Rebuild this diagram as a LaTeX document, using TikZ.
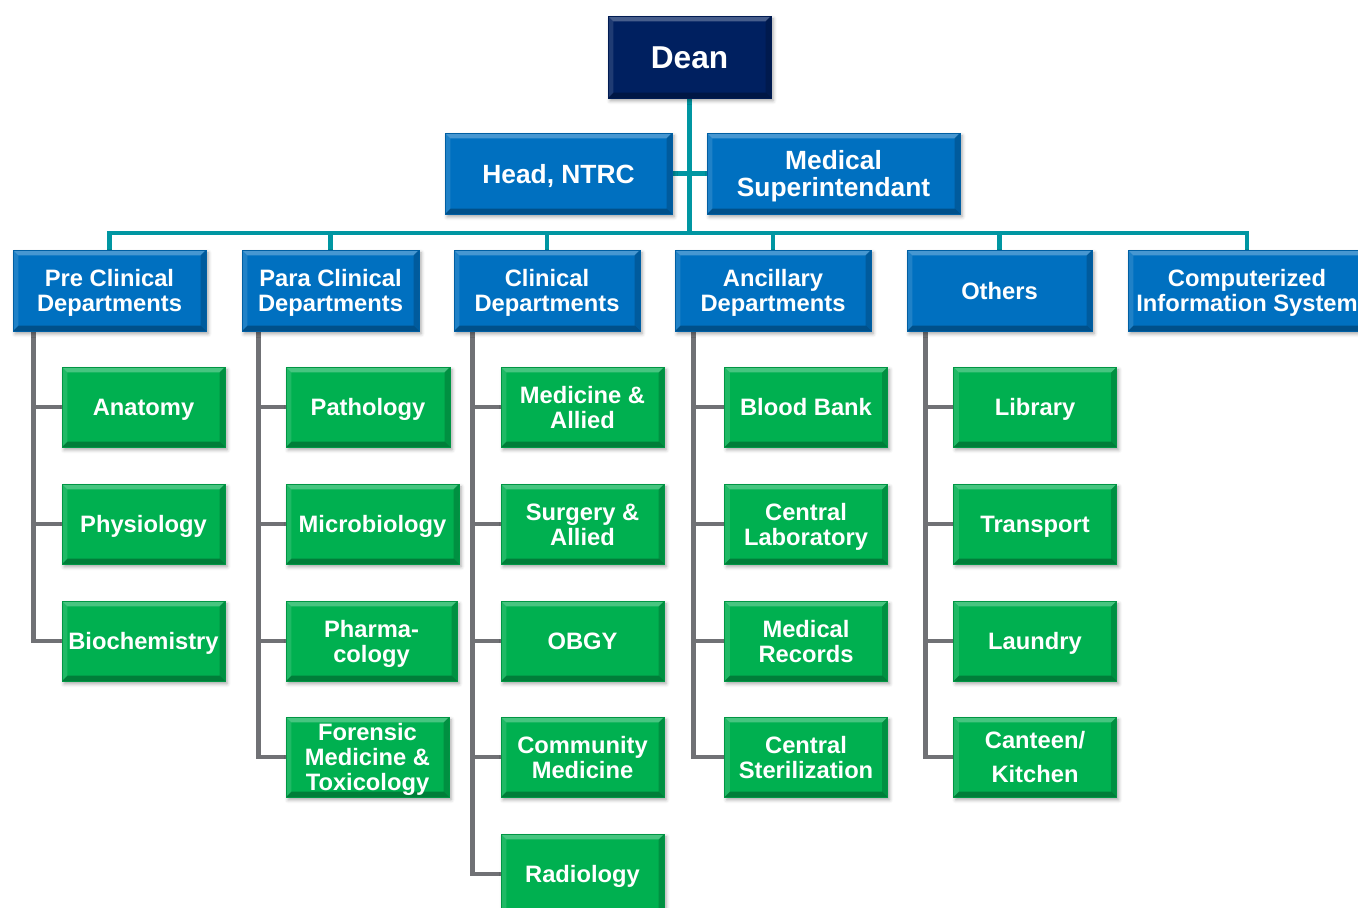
\documentclass[tikz,border=0pt]{standalone}
\usepackage{fontspec}
\setmainfont{Liberation Sans}
\usetikzlibrary{calc,shadows.blur}
\pgfdeclarelayer{background}
\pgfsetlayers{background,main}
\definecolor{deannavy}{RGB}{0,32,96}
\definecolor{unitblue}{RGB}{0,112,192}
\definecolor{deptgreen}{RGB}{0,176,80}
\definecolor{busteal}{RGB}{0,150,162}
\definecolor{trunkgray}{RGB}{112,113,117}
\newcommand\capstrut{\rule{0pt}{0.94em}}
\tikzset{
   bevel/.style={path picture={
      \fill[white,opacity=0.28] (path picture bounding box.north west) -- (path picture bounding box.north east)
           -- ++(-3pt,-3pt) -- ($(path picture bounding box.north west)+(3pt,-3pt)$) -- cycle;
      \fill[white,opacity=0.12] (path picture bounding box.north west) -- (path picture bounding box.south west)
           -- ++(3pt,3pt) -- ($(path picture bounding box.north west)+(3pt,-3pt)$) -- cycle;
      \fill[black,opacity=0.18] (path picture bounding box.north east) -- (path picture bounding box.south east)
           -- ++(-3pt,3pt) -- ($(path picture bounding box.north east)+(-3pt,-3pt)$) -- cycle;
      \fill[black,opacity=0.28] (path picture bounding box.south west) -- (path picture bounding box.south east)
           -- ++(-3pt,3pt) -- ($(path picture bounding box.south west)+(3pt,3pt)$) -- cycle;
   }},
   box/.style={bevel, draw=#1!85!black, line width=0.4pt, fill=#1, text=white, align=center, inner sep=0pt,
               execute at begin node={\capstrut}, execute at end node={\rule[-0.21em]{0pt}{0.21em}},
               blur shadow={shadow xshift=1.2pt, shadow yshift=-1.6pt, shadow blur radius=2pt, shadow opacity=35}},
   head/.style={box=deannavy, minimum width=3.26cm, minimum height=1.64cm, font=\bfseries\fontsize{18}{20}\selectfont},
   unit/.style={box=unitblue, minimum height=1.62cm, font=\bfseries\fontsize{15}{15.5}\selectfont},
   section/.style={box=unitblue, minimum height=1.62cm, font=\bfseries\fontsize{13.5}{14.4}\selectfont},
   dept/.style={box=deptgreen, minimum width=3.26cm, minimum height=1.6cm, font=\bfseries\fontsize{13.5}{14.3}\selectfont},
   bus/.style={draw=busteal, line width=2.3pt},
   trunk/.style={draw=trunkgray, line width=2.8pt}
}
\begin{document}
\begin{tikzpicture}[x=0.02cm,y=-0.02cm]
  \path[use as bounding box,clip] (0,0) rectangle (1358,908);

  % top levels
  \node[head] (dean) at (689.5,57) {Dean};
  \node[unit, minimum width=4.54cm] (ntrc) at (558.5,173.5) {Head, NTRC};
  \node[unit, minimum width=5.06cm] (msupt) at (833.5,173.5) {\capstrut Medical\\Superintendant};

  % sections
  \node[section, minimum width=3.86cm] (pre) at (109.5,290.5) {\capstrut Pre Clinical\\Departments};
  \node[section, minimum width=3.54cm] (para) at (330.5,290.5) {\capstrut Para Clinical\\Departments};
  \node[section, minimum width=3.72cm] (clin) at (547,290.5) {\capstrut Clinical\\Departments};
  \node[section, minimum width=3.92cm] (anc) at (773,290.5) {\capstrut Ancillary\\Departments};
  \node[section, minimum width=3.70cm] (oth) at (999.5,290.5) {Others};
  \node[section, minimum width=4.76cm] (cis) at (1247,290.5) {\capstrut Computerized\\Information System};

  % departments
  \foreach \id/\row/\txt in {anat/407/Anatomy, phys/524/Physiology, bioc/641/Biochemistry}
    \node[dept] (\id) at (143.5,\row) {\txt};
  \foreach \id/\xc/\w/\row/\txt in {path/368/3.28/407/Pathology, micro/372.5/3.46/524/Microbiology,
      pharm/371.5/3.42/641/{\capstrut Pharma-\\cology}, foren/367.5/3.26/757/{\capstrut Forensic\\Medicine \&\\Toxicology}}
    \node[dept, minimum width=\w cm] (\id) at (\xc,\row) {\txt};
  \foreach \id/\row/\txt in {med/407/{\capstrut Medicine \&\\Allied}, surg/524/{\capstrut Surgery \&\\Allied}, obgy/641/OBGY,
      comm/757/{\capstrut Community\\Medicine}, radio/874/Radiology}
    \node[dept] (\id) at (582.5,\row) {\txt};
  \foreach \id/\row/\txt in {blood/407/Blood Bank, lab/524/{\capstrut Central\\Laboratory}, rec/641/{\capstrut Medical\\Records},
      ster/757/{\capstrut Central\\Sterilization}}
    \node[dept] (\id) at (806,\row) {\txt};
  \foreach \id/\row/\txt in {lib/407/Library, trans/524/Transport, laun/641/Laundry, cant/757/{\capstrut Canteen/\\[5pt]Kitchen}}
    \node[dept] (\id) at (1035,\row) {\txt};

  \begin{pgfonlayer}{background}
    % teal bus
    \coordinate (bus) at (689.5,233);
    \draw[bus] (dean) -- (bus);
    \draw[bus] (ntrc) -- (msupt);
    \draw[bus] (pre.north) |- (bus) -| (cis.north);
    \foreach \s in {para,clin,anc,oth}
      \draw[bus] (\s.north) -- (\s.north |- bus);

    % gray trunks
    \coordinate (preT) at ([xshift=0.42cm]pre.south west);
    \coordinate (paraT) at ([xshift=0.34cm]para.south west);
    \coordinate (clinT) at ([xshift=0.38cm]clin.south west);
    \coordinate (ancT) at ([xshift=0.38cm]anc.south west);
    \coordinate (othT) at ([xshift=0.38cm]oth.south west);
    \draw[trunk] (preT) |- (bioc.west);
    \foreach \d in {anat,phys}
      \draw[trunk] (\d.west) -- (\d.west -| preT);
    \draw[trunk] (paraT) |- (foren.west);
    \foreach \d in {path,micro,pharm}
      \draw[trunk] (\d.west) -- (\d.west -| paraT);
    \draw[trunk] (clinT) |- (radio.west);
    \foreach \d in {med,surg,obgy,comm}
      \draw[trunk] (\d.west) -- (\d.west -| clinT);
    \draw[trunk] (ancT) |- (ster.west);
    \foreach \d in {blood,lab,rec}
      \draw[trunk] (\d.west) -- (\d.west -| ancT);
    \draw[trunk] (othT) |- (cant.west);
    \foreach \d in {lib,trans,laun}
      \draw[trunk] (\d.west) -- (\d.west -| othT);
  \end{pgfonlayer}
\end{tikzpicture}
\end{document}
